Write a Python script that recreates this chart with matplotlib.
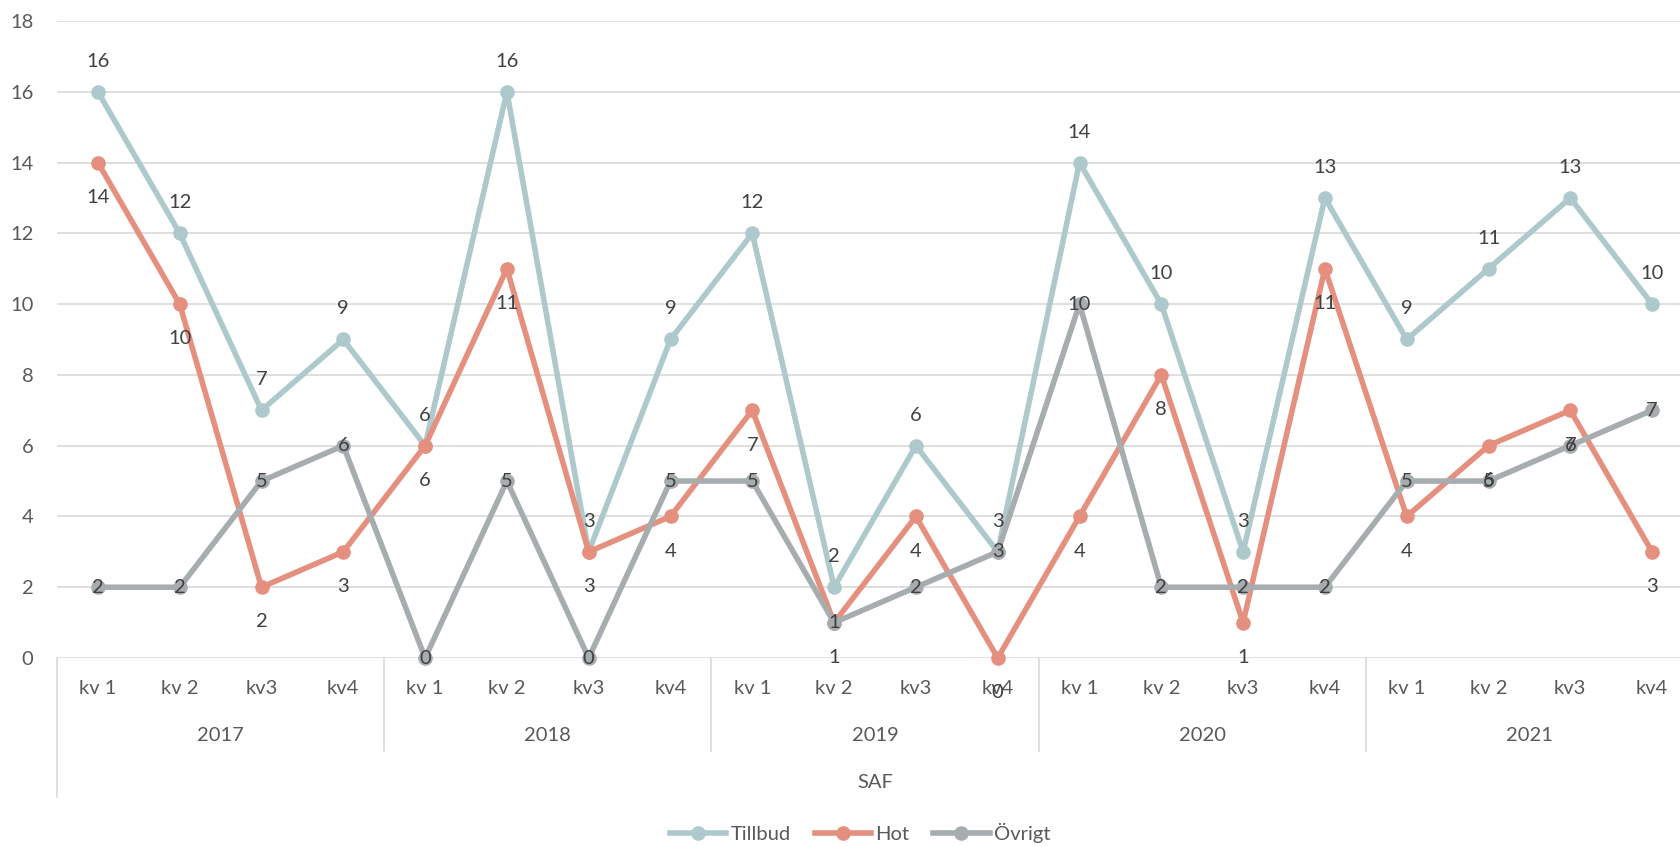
import matplotlib
matplotlib.use("Agg")
import matplotlib.pyplot as plt
import matplotlib.transforms as mtrans
from matplotlib.lines import Line2D

plt.rcParams['font.family'] = ['Lato', 'DejaVu Sans']

quarters = ["kv 1", "kv 2", "kv3", "kv4"] * 5
years = ["2017", "2018", "2019", "2020", "2021"]
group_label = "SAF"
tillbud = [16, 12, 7, 9, 6, 16, 3, 9, 12, 2, 6, 3, 14, 10, 3, 13, 9, 11, 13, 10]
hot = [14, 10, 2, 3, 6, 11, 3, 4, 7, 1, 4, 0, 4, 8, 1, 11, 4, 6, 7, 3]
ovrigt = [2, 2, 5, 6, 0, 5, 0, 5, 5, 1, 2, 3, 10, 2, 2, 2, 5, 5, 6, 7]
yticks = [0, 2, 4, 6, 8, 10, 12, 14, 16, 18]

W, H = 1680, 846
fig = plt.figure(figsize=(W / 100, H / 100), dpi=100)
left_px, right_px, top_px, bot_px = 57, 1693, 21, 658
ax = fig.add_axes([left_px / W, 1 - bot_px / H, (right_px - left_px) / W, (bot_px - top_px) / H])

c_t, c_h, c_o = "#ADC9CC", "#E5907F", "#A7ACAF"
grid_c = "#D9D9D9"
txt_c = "#595959"
lab_c = "#404040"
fs = 14.5

x = list(range(len(quarters)))
ax.set_xlim(-0.5, len(quarters) - 0.5)
ax.set_ylim(0, 18)
ax.set_yticks(yticks)
ax.set_yticklabels([str(v) for v in yticks], fontsize=fs, color=txt_c)
ax.tick_params(axis='y', length=0, pad=17)
ax.set_xticks([])
for s in ax.spines.values():
    s.set_visible(False)
for v in yticks:
    ax.axhline(v, color=grid_c, lw=1.2, zorder=0)

lw, ms = 4.0, 9.5
series = [("Tillbud", tillbud, c_t), ("Hot", hot, c_h), ("Övrigt", ovrigt, c_o)]
for name, vals, col in series:
    ax.plot(x, vals, color=col, lw=lw, marker='o', ms=ms, label=name, zorder=3,
            solid_capstyle='round', clip_on=False)

for xi, v in zip(x, tillbud):
    ax.annotate(str(v), (xi, v), xytext=(0, 22), textcoords='offset points',
                ha='center', va='center', fontsize=fs, color=lab_c, zorder=5, annotation_clip=False)
for xi, v in zip(x, hot):
    ax.annotate(str(v), (xi, v), xytext=(0, -25), textcoords='offset points',
                ha='center', va='center', fontsize=fs, color=lab_c, zorder=5, annotation_clip=False)
for xi, v in zip(x, ovrigt):
    ax.annotate(str(v), (xi, v), xytext=(0, 0), textcoords='offset points',
                ha='center', va='center', fontsize=fs, color=lab_c, zorder=5, annotation_clip=False)

# multi-level category axis
trans = mtrans.blended_transform_factory(ax.transData, ax.transAxes)
ph = bot_px - top_px
def ay(py):
    return (bot_px - py) / ph

for xi, q in zip(x, quarters):
    ax.text(xi, ay(688), q, transform=trans, ha='center', va='center', fontsize=fs, color=txt_c)
for i, yr in enumerate(years):
    ax.text(i * 4 + 1.5, ay(735), yr, transform=trans, ha='center', va='center', fontsize=fs, color=txt_c)
ax.text((len(quarters) - 1) / 2, ay(782), group_label, transform=trans, ha='center', va='center',
        fontsize=fs, color=txt_c)

ax.add_line(Line2D([-0.5, -0.5], [0, ay(797)], transform=trans, color=grid_c, lw=1.2, clip_on=False))
for i in range(1, len(years) + 1):
    xb = i * 4 - 0.5
    ax.add_line(Line2D([xb, xb], [0, ay(751)], transform=trans, color=grid_c, lw=1.2, clip_on=False))

handles = [Line2D([], [], color=c, lw=lw, marker='o', ms=ms) for _, _, c in series]
leg = fig.legend(handles, [n for n, _, _ in series], loc='center', bbox_to_anchor=(860 / W, 1 - 833 / H),
                 ncol=3, frameon=False, fontsize=fs, handlelength=2.8, handletextpad=0.2,
                 columnspacing=1.2)
for t in leg.get_texts():
    t.set_color(txt_c)

fig.savefig("out.png", dpi=100)
